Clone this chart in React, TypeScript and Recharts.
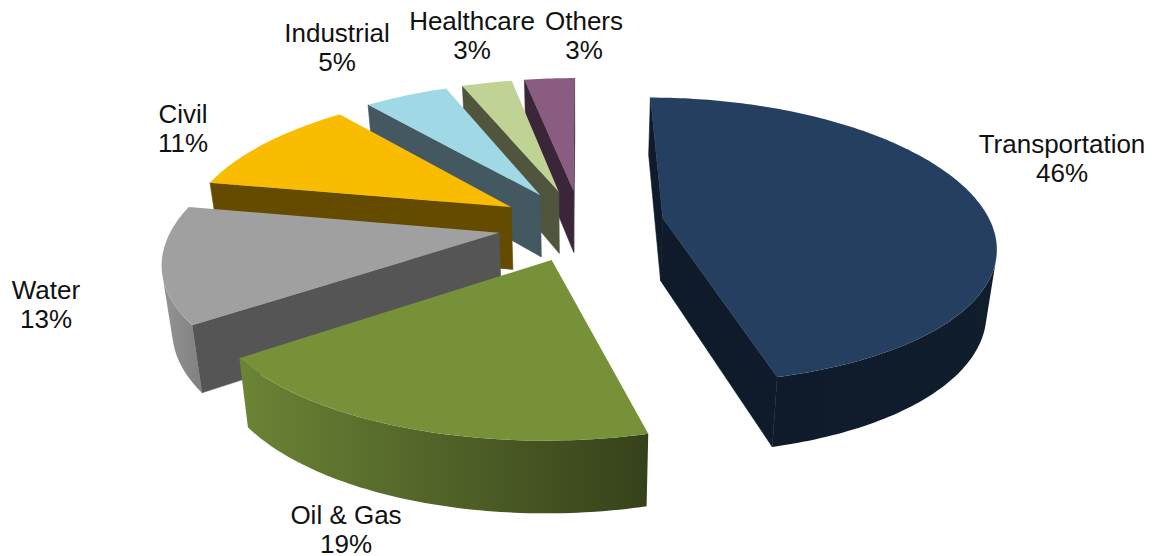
import React from "react";
import { PieChart, Pie } from "recharts";

const sectors = ["Transportation", "Oil & Gas", "Water", "Civil", "Industrial", "Healthcare", "Others"];
const shares = [46, 19, 13, 11, 5, 3, 3];

const topColors = ["#243F60", "#779138", "#A0A0A0", "#FABC00", "#A0D8E5", "#C1D295", "#8A5C82"];
const cutColors = ["#0F1B2B", "#36411A", "#555555", "#654B00", "#435860", "#50553D", "#3B2639"];
const rimFrom = ["#0F1B2B", "#6B8435", "#949494", "#7A5B00", "#435860", "#50553D", "#3B2639"];
const rimTo = ["#101D2D", "#36411A", "#808080", "#654B00", "#435860", "#50553D", "#3B2639"];

// label anchor (centre x, first baseline) for each sector
const labelSpots = [
  [1062, 153],
  [346, 524],
  [46, 299],
  [183, 123],
  [337, 42],
  [472, 30],
  [584, 30],
];

// per-slice tweak on the plane: extra pull along u, along v, and extra radius
const sliceTweak = [
  [0, -6, 3],
  [0, 0, 0],
  [0, 0, 0],
  [0, 0, 0],
  [0, 0, 0],
  [0, 0, 0],
  [0, 0, 0],
];

const WIDTH = 1155;
const HEIGHT = 556;
const CENTER_X = 581;
const CENTER_Y = 225;
const RADIUS = 326;

// Fake 3D: the pie lies on a tilted plane seen in perspective
const EXPLODE = 83;
const TILT = 0.43;
const PERSPECTIVE_X = 0.00054;
const PERSPECTIVE_Y = 0.00048;
const DEPTH = 63;
const BOTTOM_SCALE = 0.975;

// Slices are painted from the back of the pie to the front, so the table runs backwards
const sliceData = sectors.map((name, i) => ({ name, value: shares[i], index: i })).reverse();

type Pt = [number, number];

const project = (cx: number, cy: number, u: number, v: number, bottom = false): Pt => {
  const fx = 1 / (1 - PERSPECTIVE_X * v);
  const fy = 1 / (1 - PERSPECTIVE_Y * v);
  const s = bottom ? BOTTOM_SCALE : 1;
  return [cx + u * fx * s, cy + TILT * v * fy * s + (bottom ? DEPTH * fy : 0)];
};

const toPath = (pts: Pt[]) =>
  pts.map((p, i) => `${i ? "L" : "M"}${p[0].toFixed(2)},${p[1].toFixed(2)}`).join(" ") + " Z";

const signedArea = (pts: Pt[]) => {
  let sum = 0;
  pts.forEach((p, i) => {
    const q = pts[(i + 1) % pts.length];
    sum += p[0] * q[1] - q[0] * p[1];
  });
  return sum;
};

const SliceShape = (props: any) => {
  const { cx, cy, outerRadius, startAngle, endAngle, midAngle, payload } = props;
  const idx = payload.index;
  const rad = Math.PI / 180;
  const [pullU, pullV, growR] = sliceTweak[idx];

  const offU = Math.cos(midAngle * rad) * EXPLODE + pullU;
  const offV = -Math.sin(midAngle * rad) * EXPLODE + pullV;
  const at = (deg: number, r: number, bottom = false) =>
    project(cx, cy, offU + Math.cos(deg * rad) * r, offV - Math.sin(deg * rad) * r, bottom);

  const steps = Math.max(6, Math.ceil(Math.abs(endAngle - startAngle)));
  const angles = Array.from({ length: steps + 1 }, (_, i) => startAngle + ((endAngle - startAngle) * i) / steps);

  const tipTop = at(0, 0);
  const tipBottom = at(0, 0, true);
  const arcTop = angles.map((a) => at(a, outerRadius + growR));
  const arcBottom = angles.map((a) => at(a, outerRadius + growR, true));

  const topFace = [tipTop, ...arcTop];
  const winding = Math.sign(signedArea(topFace));
  const faces = (a: Pt, b: Pt, a2: Pt, b2: Pt) => Math.sign(signedArea([a, b, b2, a2])) === -winding;

  // flat cut walls running from the tip out to each end of the arc
  const cuts: Pt[][] = [];
  const last = arcTop.length - 1;
  if (faces(tipTop, arcTop[0], tipBottom, arcBottom[0])) {
    cuts.push([tipTop, arcTop[0], arcBottom[0], tipBottom]);
  }
  if (faces(arcTop[last], tipTop, arcBottom[last], tipBottom)) {
    cuts.push([arcTop[last], tipTop, tipBottom, arcBottom[last]]);
  }

  // rounded outer wall, only the stretch that faces the viewer
  const rimIdx: number[] = [];
  for (let i = 0; i < last; i++) {
    if (faces(arcTop[i], arcTop[i + 1], arcBottom[i], arcBottom[i + 1])) rimIdx.push(i);
  }
  let rim: Pt[] = [];
  if (rimIdx.length) {
    const from = rimIdx[0];
    const to = rimIdx[rimIdx.length - 1] + 1;
    rim = [...arcTop.slice(from, to + 1), ...arcBottom.slice(from, to + 1).reverse()];
  }

  const gradId = `rim-${idx}`;
  return (
    <g>
      <defs>
        <linearGradient id={gradId} x1="0" y1="0" x2="1" y2="0">
          <stop offset="0%" stopColor={rimFrom[idx]} />
          <stop offset="100%" stopColor={rimTo[idx]} />
        </linearGradient>
      </defs>
      {cuts.map((c, i) => (
        <path key={i} d={toPath(c)} fill={cutColors[idx]} stroke={cutColors[idx]} strokeWidth={0.6} />
      ))}
      {rim.length > 0 && <path d={toPath(rim)} fill={`url(#${gradId})`} />}
      <path d={toPath(topFace)} fill={topColors[idx]} />
    </g>
  );
};

const renderLabel = (props: any) => {
  const { name, value } = props;
  const idx = sectors.indexOf(name);
  const [x, y] = labelSpots[idx];
  return (
    <text key={name} x={x} y={y} textAnchor="middle" fontFamily="'Liberation Sans', Arial, sans-serif" fontSize={26} fill="#111111">
      <tspan x={x}>{name}</tspan>
      <tspan x={x} dy={29}>{`${value}%`}</tspan>
    </text>
  );
};

export default function App() {
  return (
    <div style={{ position: "absolute", left: 0, top: 0, width: WIDTH, height: HEIGHT, background: "#fff" }}>
      <PieChart width={WIDTH} height={HEIGHT} margin={{ top: 0, right: 0, bottom: 0, left: 0 }}>
        <Pie
          data={sliceData}
          dataKey="value"
          nameKey="name"
          cx={CENTER_X}
          cy={CENTER_Y}
          outerRadius={RADIUS}
          startAngle={90}
          endAngle={450}
          stroke="none"
          shape={SliceShape}
          label={renderLabel}
          labelLine={false}
          isAnimationActive={false}
        />
      </PieChart>
    </div>
  );
}
